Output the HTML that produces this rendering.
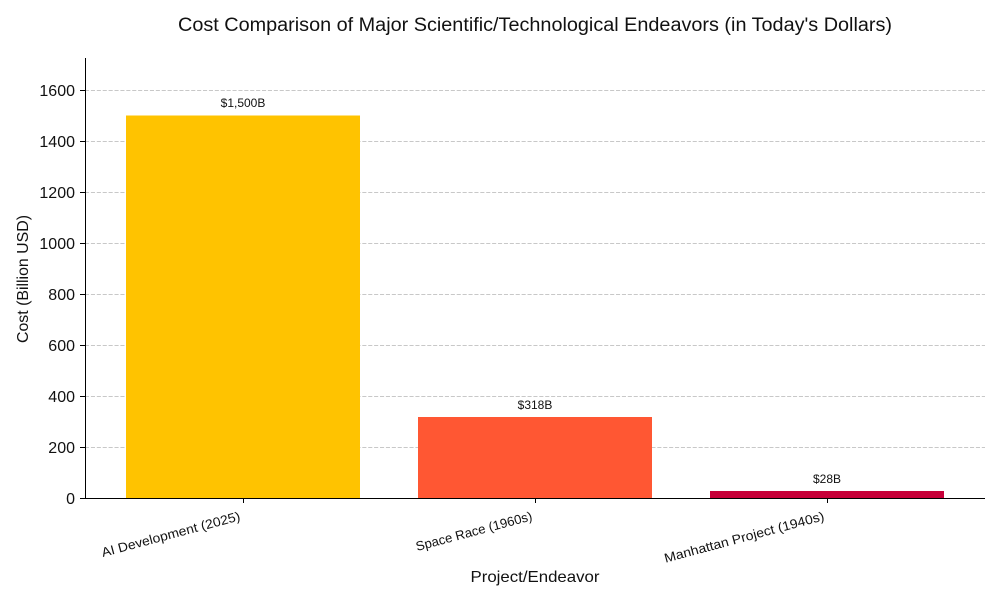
<!DOCTYPE html>
<html><head><meta charset="utf-8"><style>
html,body{margin:0;padding:0;background:#fff}
svg{display:block}
text{font-family:"Liberation Sans",sans-serif;fill:#111}
</style></head><body>
<svg width="1000" height="600" viewBox="0 0 1000 600" xmlns="http://www.w3.org/2000/svg">
<rect width="1000" height="600" fill="#fff"/>
<!-- grid -->
<g stroke="#c8c8c8" stroke-width="1" stroke-dasharray="4.1 1.8">
<line x1="85" y1="90.5" x2="985" y2="90.5"/>
<line x1="85" y1="141.5" x2="985" y2="141.5"/>
<line x1="85" y1="192.5" x2="985" y2="192.5"/>
<line x1="85" y1="243.5" x2="985" y2="243.5"/>
<line x1="85" y1="294.5" x2="985" y2="294.5"/>
<line x1="85" y1="345.5" x2="985" y2="345.5"/>
<line x1="85" y1="396.5" x2="985" y2="396.5"/>
<line x1="85" y1="447.5" x2="985" y2="447.5"/>
</g>
<!-- bars -->
<rect x="126" y="115.5" width="234" height="382.5" fill="#FFC300"/>
<rect x="418" y="417" width="234" height="81" fill="#FF5733"/>
<rect x="710" y="491" width="234" height="7" fill="#C70039"/>
<!-- axes -->
<line x1="85.5" y1="58" x2="85.5" y2="498.5" stroke="#000" stroke-width="1"/>
<line x1="85" y1="498.5" x2="985" y2="498.5" stroke="#000" stroke-width="1"/>
<g stroke="#000" stroke-width="1">
<line x1="80" y1="90.5" x2="85" y2="90.5"/>
<line x1="80" y1="141.5" x2="85" y2="141.5"/>
<line x1="80" y1="192.5" x2="85" y2="192.5"/>
<line x1="80" y1="243.5" x2="85" y2="243.5"/>
<line x1="80" y1="294.5" x2="85" y2="294.5"/>
<line x1="80" y1="345.5" x2="85" y2="345.5"/>
<line x1="80" y1="396.5" x2="85" y2="396.5"/>
<line x1="80" y1="447.5" x2="85" y2="447.5"/>
<line x1="80" y1="498.5" x2="85" y2="498.5"/>
<line x1="243.5" y1="498" x2="243.5" y2="503"/>
<line x1="535.5" y1="498" x2="535.5" y2="503"/>
<line x1="827.5" y1="498" x2="827.5" y2="503"/>
</g>
<!-- y tick labels -->
<g font-size="16" text-anchor="end">
<text x="75" y="96">1600</text>
<text x="75" y="147">1400</text>
<text x="75" y="198">1200</text>
<text x="75" y="249">1000</text>
<text x="75" y="300">800</text>
<text x="75" y="351">600</text>
<text x="75" y="402">400</text>
<text x="75" y="453">200</text>
<text x="75" y="504">0</text>
</g>
<!-- x tick labels -->
<g font-size="13" text-anchor="end">
<text x="241" y="520" transform="rotate(-15 241 520)" textLength="143" lengthAdjust="spacingAndGlyphs">AI Development (2025)</text>
<text x="533" y="520" transform="rotate(-15 533 520)" textLength="120" lengthAdjust="spacingAndGlyphs">Space Race (1960s)</text>
<text x="825" y="520" transform="rotate(-15 825 520)" textLength="165" lengthAdjust="spacingAndGlyphs">Manhattan Project (1940s)</text>
</g>
<!-- value labels -->
<g font-size="12" text-anchor="middle">
<text x="243" y="107">$1,500B</text>
<text x="535" y="409">$318B</text>
<text x="827" y="483">$28B</text>
</g>
<!-- titles -->
<text x="535" y="31" font-size="19" text-anchor="middle" textLength="714" lengthAdjust="spacingAndGlyphs">Cost Comparison of Major Scientific/Technological Endeavors (in Today's Dollars)</text>
<text x="535" y="582" font-size="16" text-anchor="middle" textLength="129" lengthAdjust="spacingAndGlyphs">Project/Endeavor</text>
<text x="0" y="0" font-size="16" text-anchor="middle" transform="translate(28 279) rotate(-90)" textLength="128" lengthAdjust="spacingAndGlyphs">Cost (Billion USD)</text>
</svg>
</body></html>
